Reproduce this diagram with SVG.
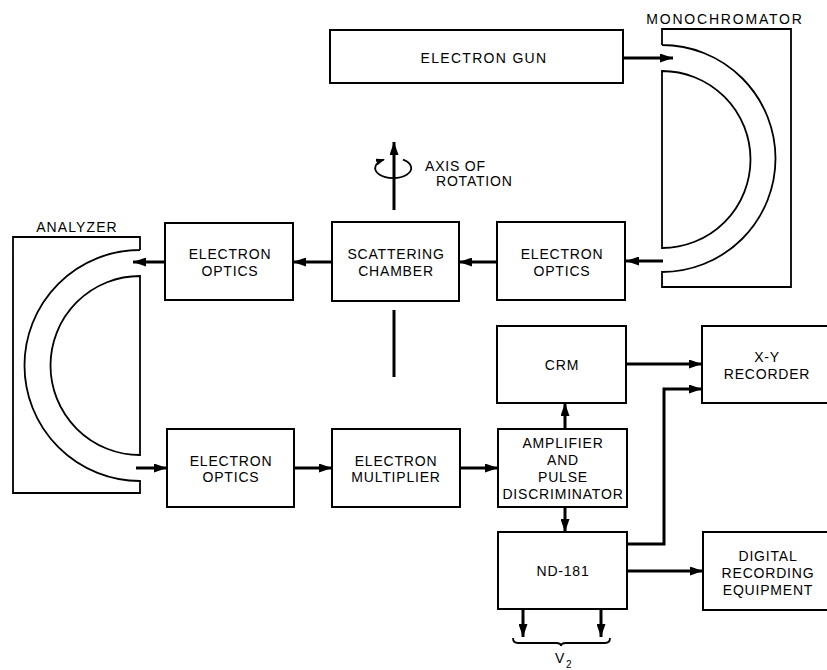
<svg xmlns="http://www.w3.org/2000/svg" width="827" height="670" viewBox="0 0 827 670">
<defs>
<style>
.box{fill:none;stroke:#000;stroke-width:2}
.arc{fill:none;stroke:#000;stroke-width:1.8}
.c{fill:none;stroke:#000;stroke-width:3}
.t{font-family:"Liberation Sans",Arial,sans-serif;font-size:14px;letter-spacing:0.8px;text-anchor:middle;fill:#000}
.l{font-family:"Liberation Sans",Arial,sans-serif;font-size:14px;letter-spacing:0.8px;fill:#000}
</style>
<marker id="ah" markerUnits="userSpaceOnUse" markerWidth="13" markerHeight="9" refX="13" refY="4.5" orient="auto">
<path d="M0,0 L13,4.5 L0,9 Z" fill="#000"/>
</marker>
<marker id="ahs" markerUnits="userSpaceOnUse" markerWidth="9" markerHeight="7" refX="8" refY="3.5" orient="auto">
<path d="M0,0 L9,3.5 L0,7 Z" fill="#000"/>
</marker>
</defs>
<rect width="827" height="670" fill="#fff"/>

<g id="electron-gun">
<rect class="box" x="330" y="30" width="293" height="53"/>
<text class="t" x="484" y="63" style="letter-spacing:1.3px">ELECTRON GUN</text>
</g>

<g id="monochromator">
<path class="arc" d="M662 45 L662 29 L791 29 L791 287 L662 287 L662 272 A113.5 113.5 0 0 0 662 45"/>
<path class="arc" d="M662 71 L662 248 A88.5 88.5 0 0 0 662 71 Z"/>
<text class="t" x="725" y="24" style="letter-spacing:1.8px">MONOCHROMATOR</text>
</g>

<g id="electron-optics-1">
<rect class="box" x="497" y="222" width="128" height="78"/>
<text class="t" x="562" y="259">ELECTRON</text>
<text class="t" x="562" y="276">OPTICS</text>
</g>

<g id="scattering-chamber">
<rect class="box" x="332" y="222" width="127" height="79"/>
<text class="t" x="396" y="259">SCATTERING</text>
<text class="t" x="396" y="276">CHAMBER</text>
</g>

<g id="axis-of-rotation">
<path class="arc" d="M403 159.7 A18 10 0 1 1 384 159.5" marker-end="url(#ahs)"/>
<text class="l" x="425" y="171">AXIS OF</text>
<text class="l" x="436" y="186">ROTATION</text>
</g>

<g id="electron-optics-2">
<rect class="box" x="165" y="223" width="128" height="77"/>
<text class="t" x="230" y="259">ELECTRON</text>
<text class="t" x="230" y="276">OPTICS</text>
</g>

<g id="analyzer">
<path class="arc" d="M140 250 L140 237 L13 237 L13 493 L140 493 L140 481 A115.5 115.5 0 0 1 140 250"/>
<path class="arc" d="M140 276 L140 455 A89.5 89.5 0 0 1 140 276 Z"/>
<text class="t" x="77" y="232" style="letter-spacing:1.1px">ANALYZER</text>
</g>

<g id="electron-optics-3">
<rect class="box" x="167" y="429" width="127" height="78"/>
<text class="t" x="231" y="466">ELECTRON</text>
<text class="t" x="231" y="482">OPTICS</text>
</g>

<g id="electron-multiplier">
<rect class="box" x="332" y="429" width="128" height="78"/>
<text class="t" x="396" y="466">ELECTRON</text>
<text class="t" x="396" y="482">MULTIPLIER</text>
</g>

<g id="amplifier">
<rect class="box" x="498" y="429" width="129" height="78"/>
<text class="t" x="563" y="448">AMPLIFIER</text>
<text class="t" x="563" y="465">AND</text>
<text class="t" x="563" y="482">PULSE</text>
<text class="t" x="563" y="499">DISCRIMINATOR</text>
</g>

<g id="crm">
<rect class="box" x="497" y="326" width="129" height="77"/>
<text class="t" x="562" y="370">CRM</text>
</g>

<g id="xy-recorder">
<path class="box" d="M830 326 L702 326 L702 403 L830 403"/>
<text class="t" x="767" y="362">X-Y</text>
<text class="t" x="767" y="379">RECORDER</text>
</g>

<g id="nd-181">
<rect class="box" x="498" y="532" width="129" height="77"/>
<text class="t" x="563" y="576">ND-181</text>
</g>

<g id="digital-recording">
<path class="box" d="M830 532 L703 532 L703 610 L830 610"/>
<text class="t" x="768" y="561">DIGITAL</text>
<text class="t" x="768" y="578">RECORDING</text>
<text class="t" x="768" y="595">EQUIPMENT</text>
</g>

<g id="v2">
<path class="arc" d="M513 638 Q513 643 518 643 L556 643 Q561 643 561 646 Q561 643 566 643 L605 643 Q610 643 610 638"/>
<text class="l" x="555" y="663">V</text>
<text class="l" x="566" y="668" style="font-size:10px">2</text>
</g>

<g id="connectors">
<line class="c" x1="623" y1="58" x2="673" y2="58" marker-end="url(#ah)"/>
<line class="c" x1="663" y1="261" x2="626" y2="261" marker-end="url(#ah)"/>
<line class="c" x1="497" y1="262" x2="459" y2="262" marker-end="url(#ah)"/>
<line class="c" x1="332" y1="262" x2="293" y2="262" marker-end="url(#ah)"/>
<line class="c" x1="165" y1="262" x2="133" y2="262" marker-end="url(#ah)"/>
<line class="c" x1="394" y1="210" x2="394" y2="142" marker-end="url(#ah)"/>
<line class="c" x1="394" y1="310" x2="394" y2="377"/>
<line class="c" x1="136" y1="468" x2="167" y2="468" marker-end="url(#ah)"/>
<line class="c" x1="294" y1="468" x2="332" y2="468" marker-end="url(#ah)"/>
<line class="c" x1="460" y1="468" x2="498" y2="468" marker-end="url(#ah)"/>
<line class="c" x1="565" y1="429" x2="565" y2="403" marker-end="url(#ah)"/>
<line class="c" x1="565" y1="507" x2="565" y2="532" marker-end="url(#ah)"/>
<line class="c" x1="626" y1="364" x2="702" y2="364" marker-end="url(#ah)"/>
<polyline class="c" points="627,544 664,544 664,389 702,389" marker-end="url(#ah)"/>
<line class="c" x1="627" y1="571" x2="703" y2="571" marker-end="url(#ah)"/>
<line class="c" x1="523" y1="609" x2="523" y2="637" marker-end="url(#ah)"/>
<line class="c" x1="601" y1="609" x2="601" y2="637" marker-end="url(#ah)"/>
</g>
</svg>
